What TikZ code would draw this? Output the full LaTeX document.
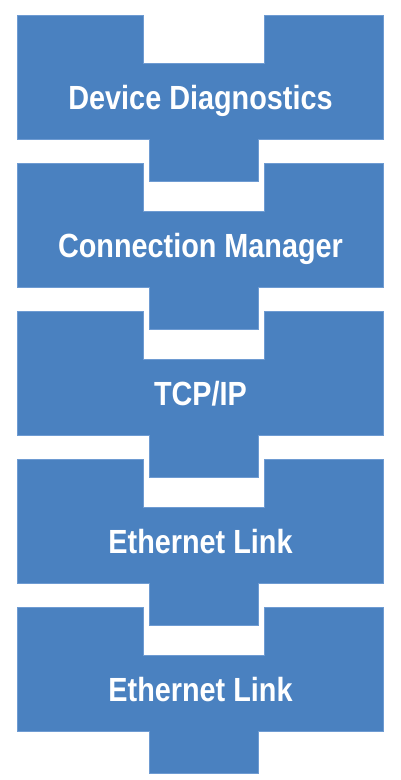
\documentclass[tikz,border=0pt]{standalone}
\usepackage{fontspec}
\setmainfont{Liberation Sans}[FakeStretch=0.86]
\definecolor{blk}{HTML}{4A81C0}
\definecolor{blkedge}{HTML}{6E9BD2}
\begin{document}
\begin{tikzpicture}[x=1pt,y=-1pt,
  layerbox/.style={fill=blk,draw=blkedge,line width=0.6pt},
  layertext/.style={text=white,anchor=base,inner sep=0pt,font=\fontsize{33.5}{36}\selectfont\bfseries}]
\useasboundingbox (0,0) rectangle (400,780);
\foreach \y/\t/\n in {15/Device Diagnostics/l1,163/Connection Manager/l2,311/TCP\slash IP/l3,459/Ethernet Link/l4,607/Ethernet Link/l5}{
  \path[layerbox] (17.5,\y) -- (143,\y) -- (143,\y+48) -- (264,\y+48) -- (264,\y) -- (383,\y)
    -- (383,\y+124) -- (258,\y+124) -- (258,\y+166) -- (149,\y+166) -- (149,\y+124)
    -- (17.5,\y+124) -- cycle;
  \node[layertext] (\n) at (200.5,\y+94.5) {\t};
}
\end{tikzpicture}
\end{document}
